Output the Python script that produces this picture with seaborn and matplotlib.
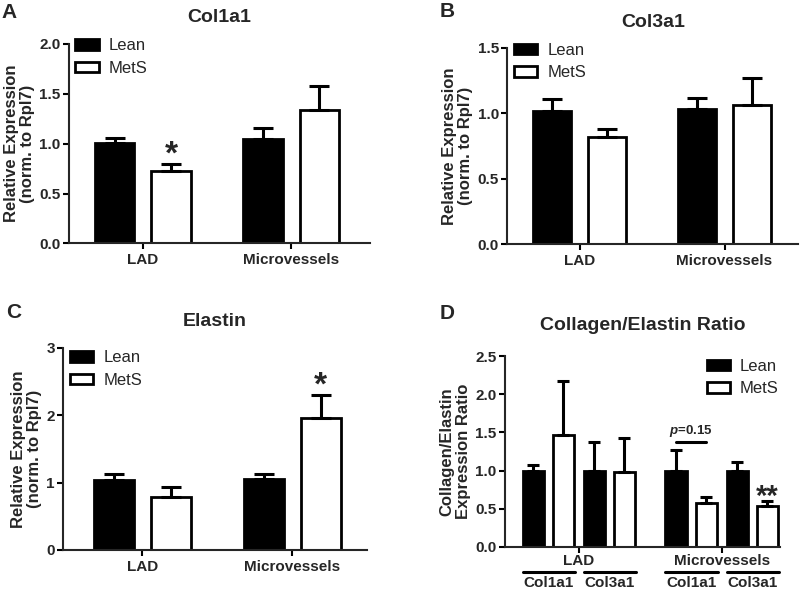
import pandas as pd
import matplotlib
matplotlib.use('Agg')
import matplotlib.pyplot as plt
import seaborn as sns
from matplotlib.patches import Patch

# data (bar height = mean, sem = error bar length)
sites = ['LAD', 'Microvessels']
groups = ['Lean', 'MetS']

col1a1_lean = [1.01, 1.05]
col1a1_mets = [0.73, 1.34]
col1a1_lean_sem = [0.05, 0.11]
col1a1_mets_sem = [0.07, 0.24]

col3a1_lean = [1.02, 1.03]
col3a1_mets = [0.82, 1.06]
col3a1_lean_sem = [0.09, 0.09]
col3a1_mets_sem = [0.06, 0.21]

elastin_lean = [1.04, 1.05]
elastin_mets = [0.79, 1.96]
elastin_lean_sem = [0.085, 0.08]
elastin_mets_sem = [0.14, 0.34]

ratio_sites = ['LAD', 'LAD', 'Microvessels', 'Microvessels']
ratio_genes = ['Col1a1', 'Col3a1', 'Col1a1', 'Col3a1']
ratio_lean = [1.0, 1.0, 1.0, 1.0]
ratio_mets = [1.47, 0.985, 0.57, 0.54]
ratio_lean_sem = [0.07, 0.37, 0.27, 0.11]
ratio_mets_sem = [0.71, 0.445, 0.09, 0.06]

# layout of the ratio panel (x positions of the gene pairs)
ratio_pos = [0, 1, 2.34, 3.34]

sns.set_style('ticks')
plt.rcParams['font.family'] = ['Liberation Sans', 'DejaVu Sans']
plt.rcParams['mathtext.fontset'] = 'custom'
plt.rcParams['mathtext.it'] = 'Liberation Sans:italic:bold'
plt.rcParams['axes.linewidth'] = 1.5

PALETTE = {'Lean': 'black', 'MetS': 'white'}


def make_df(x, lean, mets):
    return pd.DataFrame({
        'x': list(x) * 2,
        'group': ['Lean'] * len(lean) + ['MetS'] * len(mets),
        'value': list(lean) + list(mets),
    })


def style_axis(ax, yticks, ylabel, title, title_pad):
    sns.despine(ax=ax)
    ax.set_yticks(yticks)
    ax.set_ylim(yticks[0], yticks[-1])
    ax.tick_params(axis='both', direction='out', length=4, width=1.5,
                   labelsize=11, color='black', pad=2)
    ax.tick_params(axis='x', pad=3)
    for lab in ax.get_xticklabels() + ax.get_yticklabels():
        lab.set_fontweight('bold')
    ax.set_xlabel('')
    ax.set_ylabel(ylabel, fontsize=12, fontweight='bold', linespacing=1.1,
                  labelpad=3)
    ax.set_title(title, fontsize=14, fontweight='bold', pad=title_pad)


def add_errorbars(ax, sems, capsize):
    for cont, sem in zip(ax.containers, sems):
        for bar, s in zip(cont, sem):
            x = bar.get_x() + bar.get_width() / 2
            h = bar.get_height()
            ax.errorbar(x, h, yerr=[[0], [s]], fmt='none', ecolor='black',
                        elinewidth=2.2, capsize=capsize, capthick=2.2)


def add_legend(ax, **kw):
    handles = [Patch(facecolor=PALETTE[g], edgecolor='black', linewidth=2, label=g)
               for g in groups]
    ax.legend(handles=handles, frameon=False, fontsize=12, handlelength=1.4,
              handleheight=0.6, handletextpad=0.6, labelspacing=0.45,
              borderaxespad=0, **kw)


def site_panel(ax, lean, mets, lean_sem, mets_sem, yticks, title, xlim, title_pad,
               legend_y=1.06, star=None):
    df = make_df(sites, lean, mets)
    sns.barplot(data=df, x='x', y='value', hue='group', palette=PALETTE,
                edgecolor='black', linewidth=2, width=0.76, gap=0.3,
                errorbar=None, legend=False, ax=ax)
    add_errorbars(ax, [lean_sem, mets_sem], capsize=7.2)
    ax.set_xlim(*xlim)
    style_axis(ax, yticks, 'Relative Expression\n(norm. to Rpl7)', title, title_pad)
    add_legend(ax, loc='upper left', bbox_to_anchor=(0.0, legend_y))
    if star is not None:
        bar = ax.containers[1][star]
        x = bar.get_x() + bar.get_width() / 2
        top = bar.get_height() + mets_sem[star]
        ax.text(x, top, '*', ha='center', va='baseline', fontsize=24,
                fontweight='bold')


fig = plt.figure(figsize=(8, 5.91), dpi=100)

# A: Col1a1
axA = fig.add_axes([0.086, 0.588, 0.376, 0.338])
site_panel(axA, col1a1_lean, col1a1_mets, col1a1_lean_sem, col1a1_mets_sem,
           [0.0, 0.5, 1.0, 1.5, 2.0], 'Col1a1', (-0.5, 1.53), 16, star=0)
axA.set_yticklabels(['0.0', '0.5', '1.0', '1.5', '2.0'], fontweight='bold')

# B: Col3a1
axB = fig.add_axes([0.634, 0.587, 0.364, 0.332])
site_panel(axB, col3a1_lean, col3a1_mets, col3a1_lean_sem, col3a1_mets_sem,
           [0.0, 0.5, 1.0, 1.5], 'Col3a1', (-0.5, 1.51), 15)
axB.set_yticklabels(['0.0', '0.5', '1.0', '1.5'], fontweight='bold')

# C: Elastin
axC = fig.add_axes([0.079, 0.0694, 0.38, 0.342])
site_panel(axC, elastin_lean, elastin_mets, elastin_lean_sem, elastin_mets_sem,
           [0, 1, 2, 3], 'Elastin', (-0.527, 1.5), 16, legend_y=1.02, star=1)

# D: Collagen/Elastin ratio
axD = fig.add_axes([0.631, 0.0745, 0.344, 0.323])
dfD = make_df(ratio_pos, ratio_lean, ratio_mets)
sns.barplot(data=dfD, x='x', y='value', hue='group', palette=PALETTE,
            native_scale=True, edgecolor='black', linewidth=2, width=0.984,
            gap=0.29, errorbar=None, legend=False, ax=axD)
add_errorbars(axD, [ratio_lean_sem, ratio_mets_sem], capsize=4.3)
axD.set_xlim(-0.713, 3.795)
yD = [0.0, 0.5, 1.0, 1.5, 2.0, 2.5]
style_axis(axD, yD, 'Collagen/Elastin\nExpression Ratio', 'Collagen/Elastin Ratio', 19)
axD.set_yticklabels(['0.0', '0.5', '1.0', '1.5', '2.0', '2.5'], fontweight='bold')
site_centers = [(ratio_pos[0] + ratio_pos[1]) / 2, (ratio_pos[2] + ratio_pos[3]) / 2]
axD.set_xticks(site_centers)
axD.set_xticklabels(sites, fontweight='bold', fontsize=11)
axD.tick_params(axis='x', pad=1)
add_legend(axD, loc='upper right', bbox_to_anchor=(1.02, 1.02))

# gene brackets under the x axis
trans = axD.get_xaxis_transform()
lean_bars = list(axD.containers[0])
mets_bars = list(axD.containers[1])
for lb, mb, gene in zip(lean_bars, mets_bars, ratio_genes):
    x0 = lb.get_x()
    x1 = mb.get_x() + mb.get_width()
    axD.plot([x0, x1 + 0.02], [-0.132, -0.132], color='black', lw=2.2,
             transform=trans, clip_on=False)
    axD.text((x0 + x1) / 2, -0.19, gene, ha='center', va='center', fontsize=11,
             fontweight='bold', transform=trans)

# p-value bracket over Microvessels Col1a1
lb, mb = lean_bars[2], mets_bars[2]
xl = lb.get_x() + lb.get_width() / 2
xr = mb.get_x() + mb.get_width() / 2
axD.plot([xl, xr], [1.375, 1.375], color='black', lw=2.2)
axD.text((xl + xr) / 2, 1.42, '$p$=0.15', ha='center', va='bottom', fontsize=9.5,
         fontweight='bold')

# ** over Microvessels Col3a1 MetS
mb = mets_bars[3]
axD.text(mb.get_x() + mb.get_width() / 2, ratio_mets[3] + ratio_mets_sem[3] - 0.05,
         '**', ha='center', va='baseline', fontsize=21, fontweight='bold')

# panel letters
for lab, x, y in [('A', 0.002, 0.995), ('B', 0.549, 0.997),
                  ('C', 0.008, 0.487), ('D', 0.549, 0.485)]:
    fig.text(x, y, lab, fontsize=15, fontweight='bold', ha='left', va='top')

fig.savefig('out.png', dpi=100)
